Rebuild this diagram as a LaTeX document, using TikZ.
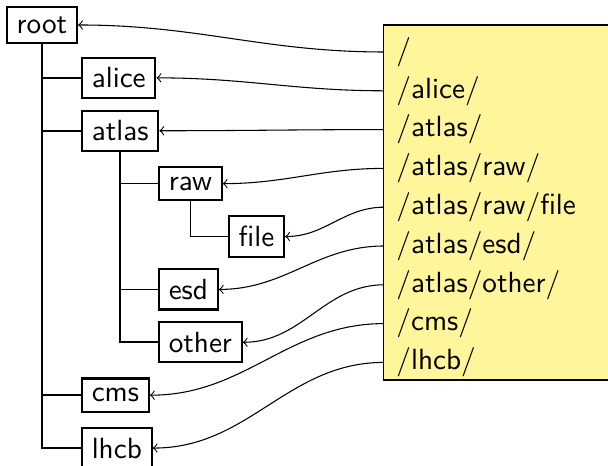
\documentclass[tikz,border=0pt,11pt]{standalone}
\usepackage{xcolor}
\usepackage{tikz}
\usetikzlibrary{positioning}

\definecolor{pathyellow}{RGB}{255,245,155}

\begin{document}
\begin{tikzpicture}[
			node distance=3.2pt,
			dir/.style={draw, thick, font=\sffamily},
			pathline/.style={font=\sffamily, inner xsep=4.5pt, inner ysep=0pt, text height=0.75em, text depth=0.25em},
			branch/.style={semithick},
			link/.style={->, thin}
			]
	\useasboundingbox (-0.553,0.329) rectangle (7.46,-5.812);
	\clip (-0.6,0.4) rectangle (7.5,-5.812);
	
	%% Directory tree
	\node[dir] (root) at (0,0) {root};
	\node[dir, anchor=west] (alice) at (0.514,-0.697) {alice};
	\node[dir, anchor=west] (atlas) at (0.514,-1.394) {atlas};
	\node[dir, anchor=west] (raw) at (1.529,-2.091) {raw};
	\node[dir, anchor=west] (file) at (2.451,-2.788) {file};
	\node[dir, anchor=west] (esd) at (1.529,-3.485) {esd};
	\node[dir, anchor=west] (other) at (1.529,-4.182) {other};
	\node[dir, anchor=west] (cms) at (0.514,-4.879) {cms};
	\node[dir, anchor=west] (lhcb) at (0.514,-5.576) {lhcb};
	
	% Branches: each child hangs off its parent's south side
	\draw[branch] (root.south) |- (alice.west);
	\draw[branch] (root.south) |- (atlas.west);
	\draw[branch] (root.south) |- (cms.west);
	\draw[branch] (root.south) |- (lhcb.west);
	\draw[branch] (atlas.south) |- (raw.west);
	\draw[branch] (atlas.south) |- (esd.west);
	\draw[branch] (atlas.south) |- (other.west);
	\draw[branch] (raw.south) |- (file.west);
	
	%% List of paths (box runs off the right edge)
	\fill[pathyellow] (4.507,0) rectangle (8,-4.679);
	\draw[thin] (8,0) -| (4.507,-4.679) -- (8,-4.679);
	\node[pathline, anchor=west] (p0) at (4.507,-0.356) {/};
	\node[pathline, below=of p0.south west, anchor=north west] (p1) {/alice/};
	\node[pathline, below=of p1.south west, anchor=north west] (p2) {/atlas/};
	\node[pathline, below=of p2.south west, anchor=north west] (p3) {/atlas/raw/};
	\node[pathline, below=of p3.south west, anchor=north west] (p4) {/atlas/raw/file};
	\node[pathline, below=of p4.south west, anchor=north west] (p5) {/atlas/esd/};
	\node[pathline, below=of p5.south west, anchor=north west] (p6) {/atlas/other/};
	\node[pathline, below=of p6.south west, anchor=north west] (p7) {/cms/};
	\node[pathline, below=of p7.south west, anchor=north west] (p8) {/lhcb/};
	
	%% Each path points at its directory
	\draw[link] (p0.west) to[out=180, in=0] (root.east);
	\draw[link] (p1.west) to[out=180, in=0] (alice.east);
	\draw[link] (p2.west) to[out=180, in=0] (atlas.east);
	\draw[link] (p3.west) to[out=180, in=0] (raw.east);
	\draw[link] (p4.west) to[out=180, in=0] (file.east);
	\draw[link] (p5.west) to[out=180, in=0] (esd.east);
	\draw[link] (p6.west) to[out=180, in=0] (other.east);
	\draw[link] (p7.west) to[out=180, in=0] (cms.east);
	\draw[link] (p8.west) to[out=180, in=0] (lhcb.east);
	
\end{tikzpicture}
\end{document}
